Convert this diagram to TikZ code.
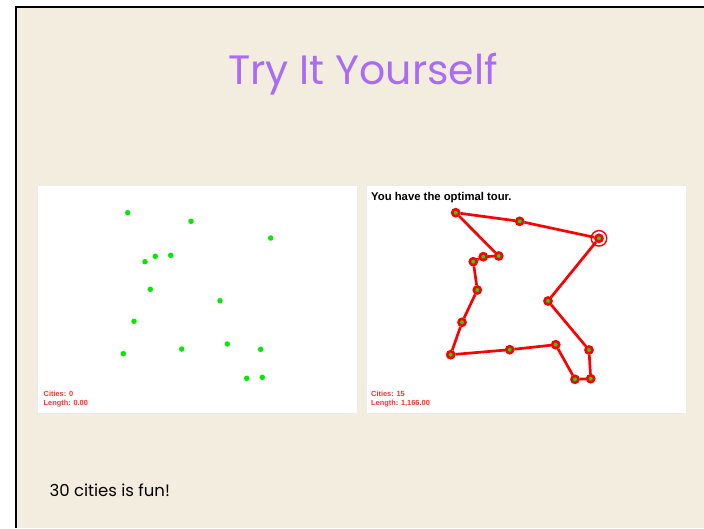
\documentclass[tikz,border=0pt]{standalone}
\usepackage{fontspec}
\newfontfamily\slidefont{Poppins}
\newfontfamily\appfont{Liberation Sans}
\usepackage{xcolor}
\usepackage{tikz}
\usetikzlibrary{positioning}

\definecolor{paper}{RGB}{243,237,223}
\definecolor{titlepurple}{RGB}{168,108,245}
\definecolor{citygreen}{RGB}{0,235,0}
\definecolor{tourred}{RGB}{255,0,0}
\definecolor{statusred}{RGB}{255,48,48}

\begin{document}
\begin{tikzpicture}[
  x=1pt, y=-1pt,
  panel/.style={draw=gray!15, line width=1pt, fill=white, anchor=north west,
    minimum width=320pt, minimum height=228pt, inner sep=0pt},
  city/.style={circle, fill=citygreen, inner sep=0pt, minimum size=5.5pt},
  tourcity/.style={circle, draw=tourred, line width=2.6pt, fill=citygreen,
    inner sep=0pt, minimum size=7pt},
  startring/.style={circle, draw=tourred, line width=1.4pt, inner sep=0pt,
    minimum size=15.5pt},
  tour/.style={draw=tourred, line width=2.7pt},
  status/.style={font=\appfont\bfseries\fontsize{7.4}{8}\selectfont,
    text=statusred, anchor=base west, inner sep=0pt},
  msg/.style={font=\appfont\bfseries\fontsize{11.3}{13}\selectfont,
    anchor=base west, inner sep=0pt}
]
\useasboundingbox (0,0) rectangle (704,528);
\fill[white] (0,0) rectangle (704,528);
\fill[paper] (16,7) rectangle (704,528);
\draw[line width=2.4pt] (16,528) -- (16,7) -- (704,7);

\node[font=\slidefont\fontsize{41}{46}\selectfont, text=titlepurple,
  anchor=base] (title) at (363,84) {Try It Yourself};

% the two applet panels
\node[panel] (left)  at (37,185)  {};
\node[panel] (right) at (366,185) {};

% cities before solving
\node[city] (l1)  at (127.7,212.7) {};
\node[city] (l2)  at (191.0,221.3) {};
\node[city] (l3)  at (270.7,238.0) {};
\node[city] (l4)  at (145.0,261.7) {};
\node[city] (l5)  at (155.3,256.3) {};
\node[city] (l6)  at (170.7,255.3) {};
\node[city] (l7)  at (150.3,289.3) {};
\node[city] (l8)  at (220.0,300.7) {};
\node[city] (l9)  at (134.0,321.3) {};
\node[city] (l10) at (123.3,353.7) {};
\node[city] (l11) at (181.7,349.0) {};
\node[city] (l12) at (227.3,344.0) {};
\node[city] (l13) at (260.7,349.3) {};
\node[city] (l14) at (246.7,378.3) {};
\node[city] (l15) at (262.3,377.3) {};

\node[status] (lcities) at (43.5,396.5) {Cities: 0};
\node[status] (llength) at (43.5,405)   {Length: 0.00};

% solved tour
\node[msg] (optimal) at (371,200.5) {You have the optimal tour.};

\node[tourcity] (r1)  at (455.7,212.7) {};
\node[tourcity] (r2)  at (519.7,221.3) {};
\node[tourcity] (r3)  at (599.0,238.3) {};
\node[tourcity] (r4)  at (473.3,261.7) {};
\node[tourcity] (r5)  at (483.3,256.7) {};
\node[tourcity] (r6)  at (498.7,256.0) {};
\node[tourcity] (r7)  at (477.3,290.0) {};
\node[tourcity] (r8)  at (548.0,301.0) {};
\node[tourcity] (r9)  at (462.0,322.3) {};
\node[tourcity] (r10) at (450.7,354.7) {};
\node[tourcity] (r11) at (509.7,349.7) {};
\node[tourcity] (r12) at (555.7,344.7) {};
\node[tourcity] (r13) at (589.0,350.0) {};
\node[tourcity] (r14) at (575.0,379.3) {};
\node[tourcity] (r15) at (590.7,378.7) {};
\node[startring] (start) at (r3) {};

\draw[tour] (r1) -- (r2);
\draw[tour] (r2) -- (r3);
\draw[tour] (r3) -- (r8);
\draw[tour] (r8) -- (r13);
\draw[tour] (r13) -- (r15);
\draw[tour] (r15) -- (r14);
\draw[tour] (r14) -- (r12);
\draw[tour] (r12) -- (r11);
\draw[tour] (r11) -- (r10);
\draw[tour] (r10) -- (r9);
\draw[tour] (r9) -- (r7);
\draw[tour] (r7) -- (r4);
\draw[tour] (r4) -- (r5);
\draw[tour] (r5) -- (r6);
\draw[tour] (r6) -- (r1);

\node[status] (rcities) at (371,396.5) {Cities: 15};
\node[status] (rlength) at (371,405)   {Length: 1,166.00};

\node[font=\slidefont\fontsize{16.5}{20}\selectfont, anchor=base west]
  (fun) at (46,496) {30 cities is fun!};
\end{tikzpicture}
\end{document}
